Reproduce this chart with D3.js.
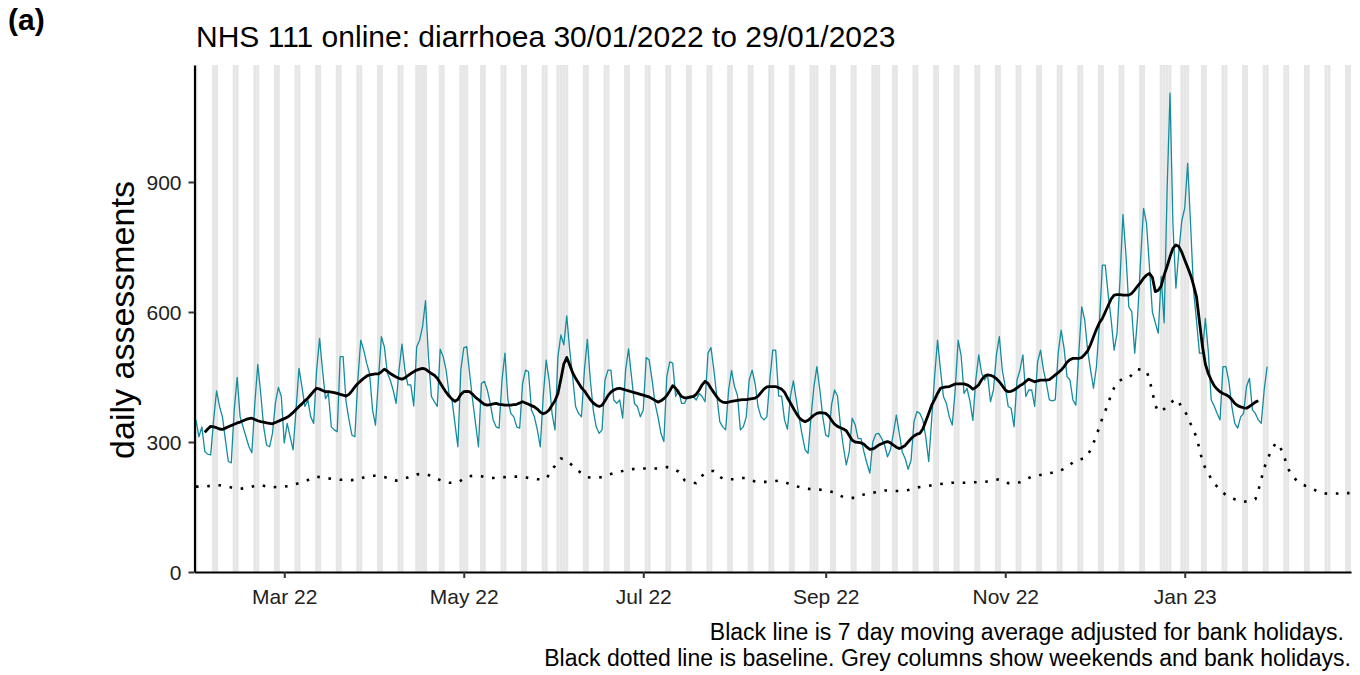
<!DOCTYPE html>
<html><head><meta charset="utf-8">
<script src="https://cdn.jsdelivr.net/npm/d3@7"></script>
<style>
body{margin:0;background:#fff;}
svg{display:block;font-family:"Liberation Sans",Arial,Helvetica,sans-serif;}
</style></head><body>
<svg id="chart" width="1360" height="675"></svg>
<script>
// ---------- data ----------
const startDate = "2022-01-30";
// daily assessments, one row per week (Sun..Sat)
const assessments = [
351,312,335,278,272,270,351,
418,382,358,305,255,252,374,
449,358,335,312,289,275,389,
479,412,335,293,289,320,390,
426,405,298,343,312,282,374,
470,428,382,397,358,343,466,
539,466,400,412,335,328,324,
497,497,393,351,316,312,443,
535,512,482,458,374,339,443,
543,520,460,443,420,389,466,
526,466,432,432,383,520,535,
566,626,497,405,393,382,514,
497,466,412,397,343,289,466,
517,520,458,397,343,289,435,
440,420,389,351,335,332,443,
505,397,366,358,335,332,435,
466,462,374,358,328,289,405,
489,443,366,328,497,547,524,
591,512,451,382,366,358,466,
537,443,374,335,320,328,443,
466,466,397,389,397,355,466,
515,451,389,382,358,374,495,
489,443,389,358,320,301,451,
485,482,405,420,389,389,405,
401,405,397,412,405,393,505,
518,466,405,347,335,328,420,
465,428,408,328,335,358,443,
466,435,382,358,351,358,443,
512,512,406,406,351,329,405,
441,397,355,316,282,274,358,
428,474,420,358,316,312,386,
420,406,338,289,247,278,355,
340,308,308,277,251,228,300,
318,320,308,293,266,282,320,
362,320,277,262,237,258,347,
370,366,351,312,255,351,451,
535,466,405,389,358,339,420,
535,500,412,424,395,350,443,
501,458,443,455,393,420,501,
543,466,428,382,378,335,443,
466,501,405,420,420,382,485,
512,466,435,397,395,397,505,
558,516,451,443,397,385,505,
612,582,512,466,424,474,574,
708,708,639,582,512,551,674,
825,735,612,601,505,590,720,
839,805,705,600,575,551,682,
575,880,1105,800,655,740,810,
840,943,800,650,580,505,505,
585,510,397,383,366,351,474,
474,440,382,343,332,358,366,
428,447,374,366,351,343,420,
474
];
// 7 day moving average, first value is day index 3
const movingAverageStart = 3;
const movingAverage = [
322,330,336,335,333,330,329,
332,335,338,341,344,346,349,352,354,355,
352,349,347,346,344,343,342,345,348,351,
354,357,362,368,375,382,388,395,401,409,
417,424,422,419,416,416,415,414,412,410,
408,406,410,418,427,435,441,447,452,455,
456,457,457,462,468,464,458,454,450,447,
445,448,453,458,462,466,468,470,468,463,
458,454,447,436,425,415,406,399,394,398,
410,416,417,416,410,403,398,392,387,385,
386,388,389,387,386,385,385,385,386,387,
390,393,390,387,384,381,376,369,365,368,
374,385,395,412,445,480,495,478,460,447,
436,425,418,408,398,390,385,382,385,395,
407,415,420,423,424,422,420,418,416,414,
412,410,408,406,404,400,396,392,395,400,
407,418,430,424,414,405,402,402,404,405,
410,420,432,440,435,424,414,404,396,392,
391,392,394,395,396,397,398,398,399,400,
401,406,414,422,427,428,428,428,425,422,
415,402,390,378,366,356,350,347,350,356,
362,366,368,367,366,360,350,341,336,333,
330,326,315,304,300,299,298,295,288,283,
284,288,293,296,299,301,298,293,288,285,
288,292,300,308,314,318,320,330,348,366,
385,398,412,424,426,427,428,431,434,434,
434,434,432,428,422,426,432,444,452,455,
454,451,446,439,430,420,416,417,420,425,
430,434,440,445,442,439,441,443,443,443,
444,449,455,460,466,474,484,490,493,493,
493,495,502,510,525,543,560,575,585,600,
615,630,639,640,640,639,639,639,643,651,
660,668,678,685,689,680,647,650,660,685,
705,728,747,755,751,738,720,703,685,662,
635,578,522,480,458,443,430,422,416,412,
409,405,398,389,384,381,379,378,382,387,
392,395
];
// baseline, daily from startDate (extends 4 weeks past the data)
const baseline = [
197,197,197,197,198,199,200,201,200,199,
198,197,195,193,192,192,193,194,195,197,
199,200,201,199,197,195,195,196,196,197,
197,198,199,201,203,205,207,209,212,215,
218,220,219,218,217,216,215,215,214,213,
213,212,212,212,213,214,216,218,219,221,
222,222,221,220,219,217,214,212,211,212,
214,216,218,220,222,225,226,226,226,224,
220,217,215,212,209,207,206,206,206,207,
211,216,220,221,222,222,222,221,219,218,
217,217,218,218,219,219,220,220,220,220,
220,220,219,217,216,215,214,214,214,215,
225,237,245,254,262,260,256,251,245,239,
233,228,222,219,218,218,218,218,219,222,
224,226,228,230,232,233,235,236,237,238,
238,239,239,239,239,239,239,239,240,241,
242,241,238,235,232,222,212,210,208,206,
205,212,222,228,231,233,233,228,220,215,
214,214,214,214,215,216,217,217,214,211,
209,208,208,208,208,208,209,210,211,209,
207,205,203,201,198,196,194,193,192,191,
191,190,190,189,188,187,185,183,180,176,
173,172,171,171,171,173,176,179,181,182,
183,184,185,186,188,188,188,187,187,187,
187,188,189,191,193,195,196,197,198,199,
200,201,202,203,204,205,205,206,206,206,
206,206,206,207,207,207,207,208,208,209,
210,212,213,214,211,208,205,205,206,206,
207,210,214,217,220,221,222,224,225,226,
228,229,230,232,235,238,242,247,253,257,
259,261,262,270,282,298,315,335,355,372,
388,410,425,437,442,446,447,448,455,465,
468,467,466,464,445,415,385,370,372,376,
382,388,395,400,392,380,372,358,342,328,
310,285,255,240,228,215,205,197,189,183,
178,174,170,168,166,164,162,163,164,166,
168,188,214,240,258,274,287,298,294,280,
262,240,228,218,212,207,202,199,197,193,
190,186,184,182,181,180,180,181,181,182,
182,182,182
];
const bankHolidays = ["2022-04-15","2022-04-18","2022-05-02","2022-06-02","2022-06-03",
  "2022-08-29","2022-09-19","2022-12-26","2022-12-27","2023-01-02"];
const xTickDates = ["2022-03-01","2022-05-01","2022-07-01","2022-09-01","2022-11-01","2023-01-01"];
const xTickLabels = ["Mar 22","May 22","Jul 22","Sep 22","Nov 22","Jan 23"];
const yTickValues = [0,300,600,900];
const panelLabel = "(a)";
const titleText = "NHS 111 online: diarrhoea 30/01/2022 to 29/01/2023";
const yAxisTitle = "daily assessments";
const captionLines = [
  "Black line is 7 day moving average adjusted for bank holidays.",
  "Black dotted line is baseline. Grey columns show weekends and bank holidays."
];

// ---------- chart ----------
const svg = d3.select("#chart");
const parse = d3.utcParse("%Y-%m-%d");
const t0 = parse(startDate);
const dayDate = d => d3.utcDay.offset(t0, d);
const L = 194.5, R = 1351, T = 65, B = 572;

const x = d3.scaleUtc()
  .domain([d3.utcHour.offset(t0, -12), d3.utcHour.offset(dayDate(baseline.length - 1), 12)])
  .range([L, R]);
const y = d3.scaleLinear().domain([0, 1170]).range([B, T]);

// grey columns: weekends and bank holidays
const bh = new Set(bankHolidays);
const fmt = d3.utcFormat("%Y-%m-%d");
const greyDays = d3.range(0, baseline.length).map(dayDate)
  .filter(dt => dt.getUTCDay() === 0 || dt.getUTCDay() === 6 || bh.has(fmt(dt)));
svg.append("g").selectAll("rect").data(greyDays).join("rect")
  .attr("x", d => x(d3.utcHour.offset(d, -12)))
  .attr("width", d => x(d3.utcHour.offset(d, 12)) - x(d3.utcHour.offset(d, -12)))
  .attr("y", T).attr("height", B - T)
  .attr("fill", "#e6e6e6");

// baseline (dotted)
svg.append("path")
  .datum(baseline)
  .attr("fill", "none").attr("stroke", "#000")
  .attr("stroke-width", 2.6).attr("stroke-dasharray", "2.6 8.7")
  .attr("d", d3.line().x((v, i) => x(dayDate(i))).y(v => y(v)));

// daily assessments
svg.append("path")
  .datum(assessments)
  .attr("fill", "none").attr("stroke", "#148c9e")
  .attr("stroke-width", 1.3).attr("stroke-linejoin", "round")
  .attr("d", d3.line().x((v, i) => x(dayDate(i))).y(v => y(v)));

// moving average
svg.append("path")
  .datum(movingAverage)
  .attr("fill", "none").attr("stroke", "#000")
  .attr("stroke-width", 2.8).attr("stroke-linejoin", "round")
  .attr("d", d3.line().x((v, i) => x(dayDate(i + movingAverageStart))).y(v => y(v)));

// axes
const yAxis = svg.append("g").attr("transform", `translate(${L},0)`)
  .call(d3.axisLeft(y).tickValues(yTickValues).tickSize(6).tickSizeOuter(0).tickPadding(7));
const xAxis = svg.append("g").attr("transform", `translate(0,${B})`)
  .call(d3.axisBottom(x).tickValues(xTickDates.map(parse))
    .tickFormat((d, i) => xTickLabels[i]).tickSize(6).tickSizeOuter(0).tickPadding(11));
[yAxis, xAxis].forEach(g => {
  g.select(".domain").attr("stroke", "#000").attr("stroke-width", 2.2);
  g.selectAll(".tick line").attr("stroke", "#333").attr("stroke-width", 2);
  g.selectAll(".tick text").attr("fill", "#222").style("font-size", "21px")
    .style("font-family", "'Liberation Sans',Arial,sans-serif");
});
yAxis.selectAll(".tick text").attr("dy", "0.36em");

// texts
svg.append("text").attr("x", 8).attr("y", 30)
  .style("font-size", "30px").style("font-weight", "bold").text(panelLabel);
svg.append("text").attr("x", 196).attr("y", 47)
  .style("font-size", "30px").text(titleText);
svg.append("text")
  .attr("transform", `translate(134,320) rotate(-90)`)
  .attr("text-anchor", "middle")
  .style("font-size", "34px").text(yAxisTitle);
svg.append("text").attr("x", 1344).attr("y", 640).attr("text-anchor", "end")
  .style("font-size", "23px").text(captionLines[0]);
svg.append("text").attr("x", 1351).attr("y", 666).attr("text-anchor", "end")
  .style("font-size", "23px").text(captionLines[1]);
</script>
</body></html>
